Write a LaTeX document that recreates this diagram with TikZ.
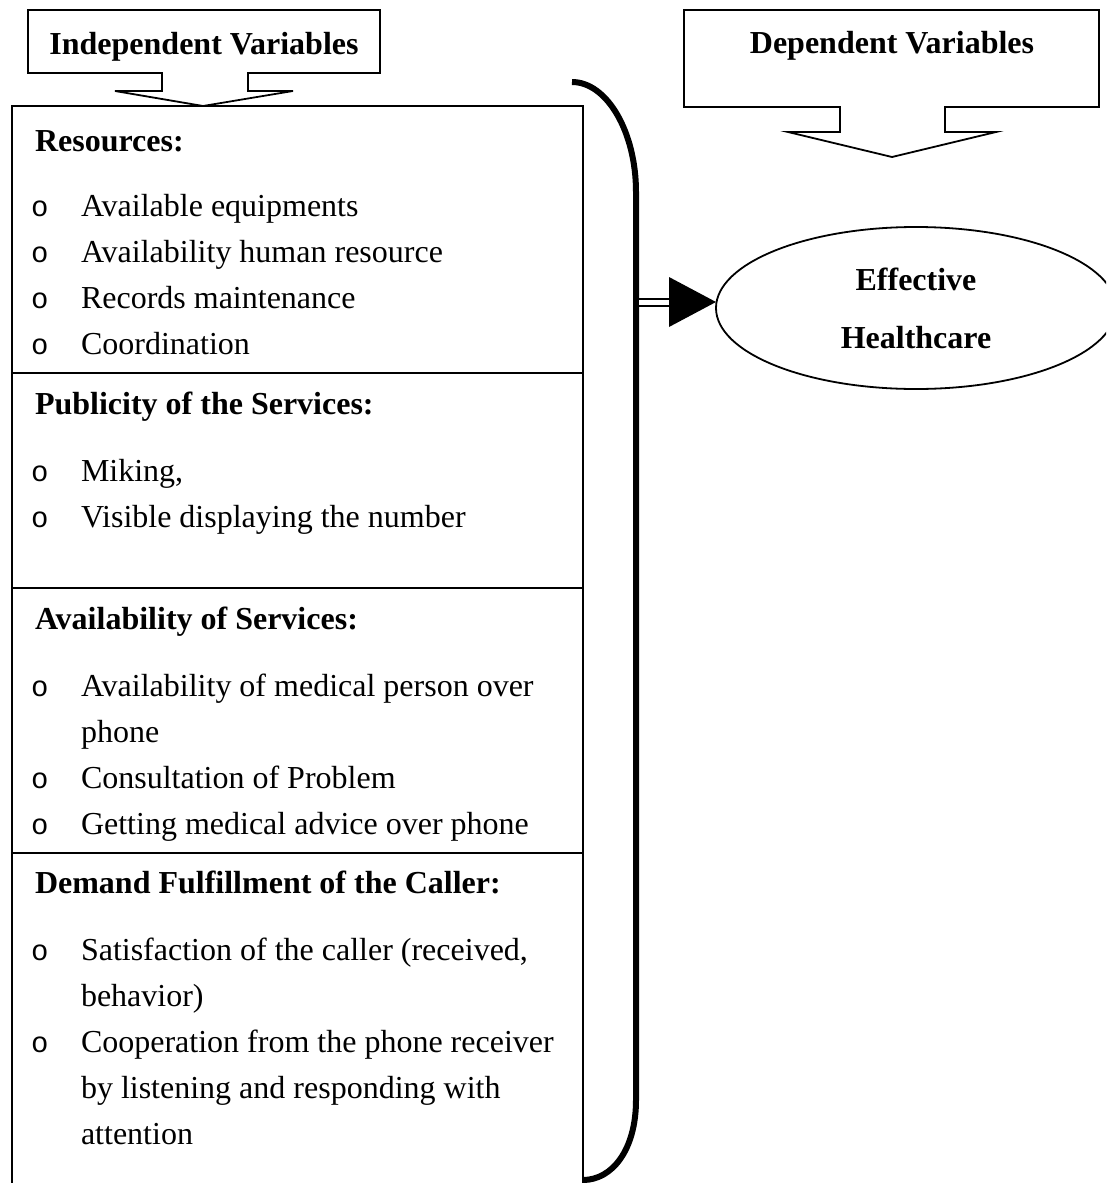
\documentclass[tikz,border=0pt]{standalone}
\usepackage{fontspec}
\setmainfont{Liberation Serif}
\newfontfamily\bulletfont{Liberation Mono}
\usetikzlibrary{shapes.geometric}
\begin{document}
\begin{tikzpicture}[x=1pt,y=-1pt,
  every node/.style={inner sep=0pt,outer sep=0pt},
  txt/.style={anchor=base west,font=\fontsize{32}{46}\selectfont},
  hd/.style={anchor=base west,font=\fontsize{32}{46}\selectfont\bfseries},
  ctitle/.style={anchor=base,font=\fontsize{32}{46}\selectfont\bfseries},
  bul/.style={anchor=base west,font=\bulletfont\fontsize{29}{46}\selectfont},
  frame/.style={draw=black,line width=2pt},
  callout/.style={draw=black,line width=1.8pt,line join=miter},
  bracket/.style={draw=black,line width=6pt},
  dblarrow/.style={draw=black,line width=2pt,double distance=5pt,shorten >=40pt},
  outcome/.style={draw=black,ellipse,line width=1.8pt,minimum width=400pt,minimum height=162pt,
    align=center,font=\fontsize{32}{58}\selectfont\bfseries}]
\useasboundingbox (0,0) rectangle (1106,1183);
\clip (0,0) rectangle (1106,1183);

% Independent Variables callout
\draw[callout] (28,10) -- (380,10) -- (380,73) -- (248,73) -- (248,91) -- (293,91)
  -- (203,106) -- (115,91) -- (162,91) -- (162,73) -- (28,73) -- cycle;
\node[ctitle] (indep) at (204,54) {Independent Variables};

% Dependent Variables callout
\draw[callout] (684,10) -- (1099,10) -- (1099,107) -- (945,107) -- (945,132) -- (996,132)
  -- (892,157) -- (788,132) -- (840,132) -- (840,107) -- (684,107) -- cycle;
\node[ctitle] (dep) at (892,53) {Dependent Variables};

% Main box
\draw[frame] (12,1195) -- (12,106) -- (583,106) -- (583,1195);
\draw[frame] (12,373) -- (583,373);
\draw[frame] (12,588) -- (583,588);
\draw[frame] (12,853) -- (583,853);

% Resources
\node[hd] (h1) at (35,151) {Resources:};
\node[bul] (b11) at (31,216) {o};
\node[txt] (t11) at (81,216) {Available equipments};
\node[bul] (b12) at (31,262) {o};
\node[txt] (t12) at (81,262) {Availability human resource};
\node[bul] (b13) at (31,308) {o};
\node[txt] (t13) at (81,308) {Records maintenance};
\node[bul] (b14) at (31,354) {o};
\node[txt] (t14) at (81,354) {Coordination};

% Publicity
\node[hd] (h2) at (35,414) {Publicity of the Services:};
\node[bul] (b21) at (31,481) {o};
\node[txt] (t21) at (81,481) {Miking,};
\node[bul] (b22) at (31,527) {o};
\node[txt] (t22) at (81,527) {Visible displaying the number};

% Availability
\node[hd] (h3) at (35,629) {Availability of Services:};
\node[bul] (b31) at (31,696) {o};
\node[txt] (t31) at (81,696) {Availability of medical person over};
\node[txt] (t31b) at (81,742) {phone};
\node[bul] (b32) at (31,788) {o};
\node[txt] (t32) at (81,788) {Consultation of Problem};
\node[bul] (b33) at (31,834) {o};
\node[txt] (t33) at (81,834) {Getting medical advice over phone};

% Demand
\node[hd] (h4) at (35,893) {Demand Fulfillment of the Caller:};
\node[bul] (b41) at (31,960) {o};
\node[txt] (t41) at (81,960) {Satisfaction of the caller (received,};
\node[txt] (t41b) at (81,1006) {behavior)};
\node[bul] (b42) at (31,1052) {o};
\node[txt] (t42) at (81,1052) {Cooperation from the phone receiver};
\node[txt] (t42b) at (81,1098) {by listening and responding with};
\node[txt] (t42c) at (81,1144) {attention};

% Bracket
\draw[bracket] (572,82) .. controls (607,82) and (636,132) .. (636,192)
  -- (636,1100) .. controls (636,1150) and (612,1180) .. (583,1180);

% Outcome
\node[outcome] (eff) at (916,308) {Effective\\Healthcare};

% Connector
\coordinate (br) at (639,302);
\draw[dblarrow] (br) -- (br -| eff.west);
\fill[black] (br -| eff.west) -- ++(-47,-25) -- ++(0,50) -- cycle;
\end{tikzpicture}
\end{document}
